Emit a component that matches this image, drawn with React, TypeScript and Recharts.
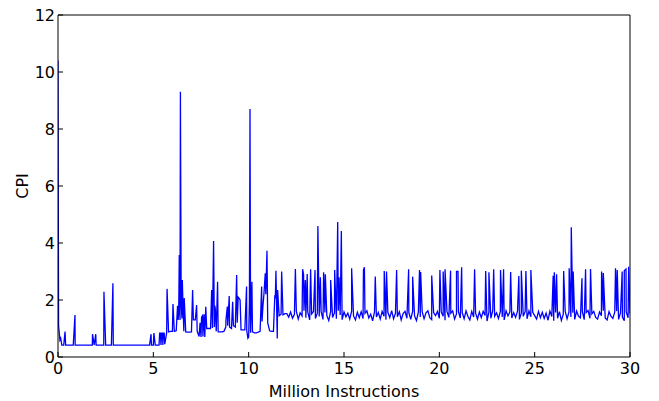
import { LineChart, Line, XAxis, YAxis } from 'recharts'

// CPI sampled every 0.1 million instructions, 0.0 .. 30.0
const sampleStep = 0.1
const cpiSamples = [
  10.4, 0.6, 0.42, 0.42, 0.42, 0.42, 0.42, 0.42, 0.42, 0.42,
  0.42, 0.42, 0.42, 0.42, 0.42, 0.42, 0.42, 0.42, 0.42, 0.42,
  0.42, 0.42, 0.42, 0.42, 0.42, 0.42, 0.42, 0.42, 0.42, 0.42,
  0.42, 0.42, 0.42, 0.42, 0.42, 0.42, 0.42, 0.42, 0.42, 0.42,
  0.42, 0.42, 0.42, 0.42, 0.42, 0.42, 0.42, 0.42, 0.42, 0.42,
  0.42, 0.42, 0.42, 0.42, 0.42, 0.42, 0.45, 0.85, 0.88, 0.9,
  0.9, 0.9, 0.92, 1.3, 1.3, 1.35, 0.9, 0.88, 0.87, 0.87,
  0.88, 1.3, 1.3, 0.9, 0.72, 0.7, 0.72, 0.7, 1.0, 1.0,
  1.0, 1.02, 1.05, 0.9, 0.88, 0.88, 0.88, 0.9, 1.05, 1.1,
  1.05, 1.0, 1.1, 1.05, 1.2, 2.06, 0.95, 0.95, 0.95, 0.92,
  0.7, 0.85, 0.88, 0.85, 0.85, 0.87, 0.9, 1.25, 2.2, 2.2,
  1.2, 0.92, 0.9, 0.9, 2.1, 0.65, 1.45, 1.5, 1.48, 1.52,
  1.52, 1.40, 1.58, 1.36, 1.50, 1.61, 1.33, 1.55, 1.44, 1.62,
  1.38, 1.57, 1.30, 1.51, 1.60, 1.35, 1.54, 1.42, 1.59, 1.32,
  1.56, 1.45, 1.28, 1.60, 1.39, 1.55, 1.34, 1.62, 1.47, 1.31,
  1.58, 1.41, 1.54, 1.33, 1.61, 1.44, 1.30, 1.57, 1.38, 1.59,
  1.35, 1.53, 1.62, 1.37, 1.50, 1.27, 1.58, 1.40, 1.56, 1.33,
  1.60, 1.43, 1.31, 1.57, 1.38, 1.63, 1.34, 1.54, 1.41, 1.59,
  1.30, 1.52, 1.60, 1.36, 1.56, 1.32, 1.61, 1.44, 1.28, 1.57,
  1.40, 1.59, 1.34, 1.55, 1.62, 1.38, 1.31, 1.56, 1.45, 1.60,
  1.36, 1.58, 1.43, 1.29, 1.60, 1.39, 1.54, 1.62, 1.33, 1.51,
  1.59, 1.37, 1.56, 1.34, 1.62, 1.42, 1.30, 1.60, 1.40, 1.55,
  1.33, 1.58, 1.38, 1.60, 1.46, 1.26, 1.57, 1.36, 1.63, 1.43,
  1.55, 1.35, 1.60, 1.40, 1.30, 1.62, 1.44, 1.58, 1.37, 1.56,
  1.39, 1.61, 1.32, 1.55, 1.43, 1.59, 1.34, 1.62, 1.41, 1.57,
  1.45, 1.33, 1.60, 1.38, 1.57, 1.35, 1.54, 1.29, 1.61, 1.42,
  1.27, 1.56, 1.36, 1.59, 1.28, 1.50, 1.61, 1.34, 1.58, 1.40,
  1.55, 1.32, 1.61, 1.43, 1.37, 1.59, 1.31, 1.56, 1.63, 1.36,
  1.51, 1.60, 1.39, 1.33, 1.58, 1.45, 1.62, 1.37, 1.30, 1.59,
  1.43, 1.35, 1.57, 1.61, 1.32, 1.55, 1.40, 1.27, 1.58, 1.38,
  1.52,
]

// short spikes between the samples
const peakMi = [
  0.03, 0.14, 0.37, 0.89, 1.81, 1.98, 2.41, 2.88, 4.88, 5.03,
  5.33, 5.37, 5.44, 5.48, 5.53, 5.57, 5.72, 6.03, 6.27, 6.33,
  6.36, 6.42, 6.46, 6.52, 6.56, 6.62, 7.06, 7.27, 7.45, 7.53,
  7.58, 7.66, 7.75, 8.06, 8.16, 8.22, 8.25, 8.37, 8.81, 8.88,
  8.98, 9.16, 9.37, 9.45, 9.55, 9.89, 9.96, 10.04, 10.07, 10.12,
  10.17, 10.68, 10.75, 10.87, 10.96, 11.37, 11.43, 11.52, 11.73,
  12.45, 12.83, 12.88, 12.97, 13.07, 13.25, 13.48, 13.63, 13.76, 13.93,
  14.02, 14.3, 14.51, 14.67, 14.74, 14.86, 15.4, 16.02, 16.07, 16.64,
  17.11, 17.23, 17.76, 18.39, 18.6, 18.96, 19.02, 19.6, 20.03, 20.2,
  20.3, 20.59, 20.9, 20.98, 21.17, 21.85, 22.43, 22.6, 22.85, 23.21,
  23.37, 23.74, 24.17, 24.3, 24.54, 24.8, 25.97, 26.03, 26.15, 26.52,
  26.81, 26.92, 27.02, 27.48, 27.67, 27.93, 28.51, 28.6, 29.24, 29.33,
  29.59, 29.7, 29.79, 29.93,
]
const peakCpi = [
  1.1, 0.66, 0.89, 1.47, 0.8, 0.8, 2.29, 2.59, 0.8, 0.84,
  0.84, 0.84, 0.84, 0.84, 0.84, 0.84, 2.39, 1.86, 1.8, 1.5,
  3.58, 9.31, 1.9, 2.7, 1.7, 2.07, 2.35, 1.82, 1.2, 1.4,
  1.45, 1.5, 1.76, 2.35, 4.07, 1.8, 1.7, 2.64, 1.3, 1.77,
  2.14, 1.94, 2.88, 2.1, 2.0, 2.47, 0.66, 1.9, 8.7, 1.3,
  2.64, 2.47, 1.8, 2.94, 3.73, 2.12, 3.03, 2.35, 3.0,
  3.09, 3.08, 2.9, 2.7, 2.91, 3.08, 3.05, 4.6, 2.8, 2.97,
  2.9, 2.7, 3.05, 4.74, 2.8, 4.42, 3.11, 3.05, 3.15, 2.82,
  3.02, 3.0, 3.05, 3.08, 2.82, 3.05, 2.98, 2.86, 3.05, 3.0,
  3.08, 3.03, 3.0, 3.0, 3.15, 3.08, 3.02, 2.97, 3.08, 3.05,
  3.08, 2.98, 2.84, 3.03, 3.02, 3.05, 2.85, 2.97, 2.9, 3.02,
  3.11, 4.55, 3.0, 2.76, 3.08, 3.09, 3.0, 2.95, 3.11, 3.05,
  3.0, 3.03, 3.09, 3.17,
]

const xTicks = [0, 5, 10, 15, 20, 25, 30]
const yTicks = [0, 2, 4, 6, 8, 10, 12]

const font = 'DejaVu Sans'

const data = [
  ...cpiSamples.map((cpi, i) => ({ mi: Math.round(i * sampleStep * 100) / 100, cpi })),
  ...peakMi.map((mi, i) => ({ mi, cpi: peakCpi[i] })),
].sort((a, b) => a.mi - b.mi)

function XTick(props: any) {
  const { x, y, payload } = props
  return (
    <g>
      <line x1={x} y1={y} x2={x} y2={y - 5} stroke="#000" />
      <text x={x} y={y + 6} dy="0.71em" textAnchor="middle" fontFamily={font} fontSize={16} fill="#000">
        {payload.value}
      </text>
    </g>
  )
}

function YTick(props: any) {
  const { x, y, payload } = props
  return (
    <g>
      <line x1={x} y1={y} x2={x + 5} y2={y} stroke="#000" />
      <text x={x - 3} y={y} dy="0.355em" textAnchor="end" fontFamily={font} fontSize={16} fill="#000">
        {payload.value}
      </text>
    </g>
  )
}

export default function App() {
  return (
    <div style={{ position: 'absolute', left: 0, top: 0, background: '#fff' }}>
      <LineChart width={659} height={401} data={data} margin={{ top: 15, right: 29, bottom: 0, left: 0 }}>
        <XAxis
          xAxisId="main"
          dataKey="mi"
          type="number"
          domain={[0, 30]}
          ticks={xTicks}
          allowDataOverflow
          height={44}
          tickSize={0}
          tickMargin={0}
          tickLine={false}
          axisLine={{ stroke: '#000' }}
          tick={<XTick />}
          label={{ value: 'Million Instructions', position: 'insideBottom', offset: 4, fill: '#000', fontSize: 16, fontFamily: font }}
        />
        <XAxis
          xAxisId="top"
          orientation="top"
          mirror
          type="number"
          domain={[0, 30]}
          ticks={xTicks}
          allowDataOverflow
          tick={false}
          tickSize={5}
          tickLine={{ stroke: '#000' }}
          axisLine={{ stroke: '#000' }}
        />
        <YAxis
          yAxisId="main"
          type="number"
          domain={[0, 12]}
          ticks={yTicks}
          allowDataOverflow
          width={58}
          tickSize={0}
          tickMargin={0}
          tickLine={false}
          axisLine={{ stroke: '#000' }}
          tick={<YTick />}
          label={{ value: 'CPI', angle: -90, position: 'insideLeft', offset: 22, fill: '#000', fontSize: 16, fontFamily: font, style: { textAnchor: 'middle' } }}
        />
        <YAxis
          yAxisId="right"
          orientation="right"
          mirror
          type="number"
          domain={[0, 12]}
          ticks={yTicks}
          allowDataOverflow
          tick={false}
          tickSize={5}
          tickLine={{ stroke: '#000' }}
          axisLine={{ stroke: '#000' }}
        />
        <Line
          xAxisId="main"
          yAxisId="main"
          dataKey="cpi"
          type="linear"
          stroke="#0000ff"
          strokeWidth={1.3}
          dot={false}
          activeDot={false}
          isAnimationActive={false}
        />
      </LineChart>
    </div>
  )
}
